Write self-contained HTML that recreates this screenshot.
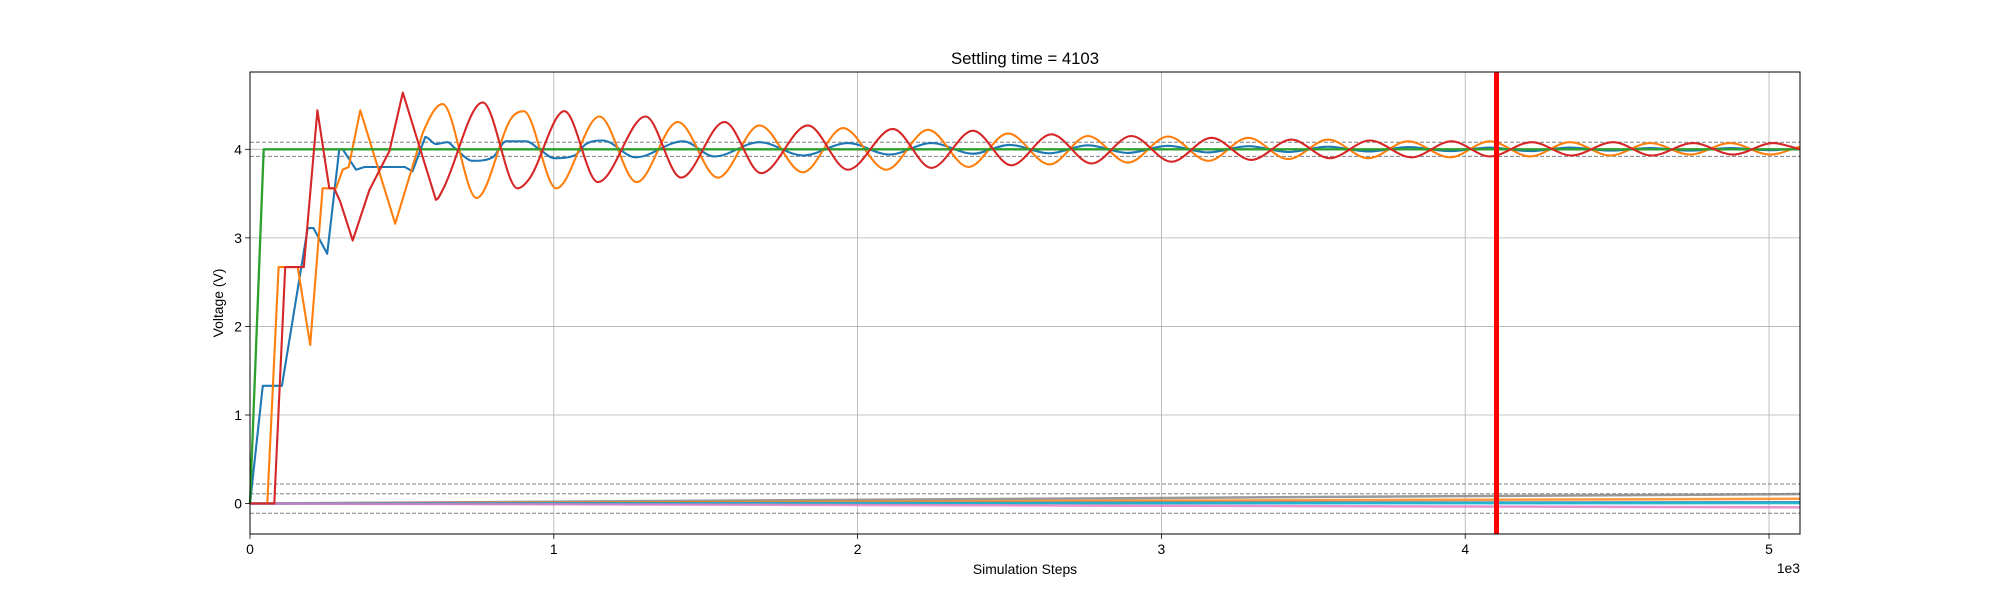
<!DOCTYPE html>
<html><head><meta charset="utf-8"><style>
body{margin:0;background:#fff;}
svg text{font-family:"Liberation Sans","DejaVu Sans",sans-serif;fill:#000;}
</style></head><body>
<svg id="chart" width="2000" height="600" xmlns="http://www.w3.org/2000/svg">
<rect width="2000" height="600" fill="#fff"/>
<g id="grid"></g>
<g id="refs"></g>
<g id="series"></g>
<g id="axes"></g>
<text x="1025" y="64" font-size="16.7" text-anchor="middle">Settling time = 4103</text>
<text x="1025" y="574" font-size="13.9" text-anchor="middle">Simulation Steps</text>
<text transform="translate(223,303) rotate(-90)" font-size="13.9" text-anchor="middle">Voltage (V)</text>
<text x="1800" y="573" font-size="13.9" text-anchor="end">1e3</text>
</svg>
<script>
const xTicks=[0,1000,2000,3000,4000,5000];
const xTickLabels=["0","1","2","3","4","5"];
const yTicks=[0,1,2,3,4];
const yTickLabels=["0","1","2","3","4"];
const settlingTime=4103;
const bandLevels=[4.08,3.92,0.22,0.11,-0.11];
const driftEnds=[0.107,0.054,0.015,0.004,-0.043];
const driftColors=["#7f7f7f","#ff7f0e","#1f77b4","#17becf","#e377c2"];
const blueSeries=[[0,0],[42,1.33],[105,1.33],[190,3.11],[209,3.11],[254,2.82],[294,4.0],[305,4.0],[349,3.77],[377,3.80],[510,3.80],[535,3.75],[577,4.14],[612,4.06],[650,4.08],[678,4.0],[733,3.87],[799,3.91],[843,4.09],[909,4.09],[953,4.0],[1002,3.90],[1068,3.93],[1106,4.06],[1161,4.10],[1270,3.91],[1425,4.09],[1529,3.92],[1677,4.08],[1820,3.93],[1968,4.07],[2105,3.94],[2243,4.07],[2380,3.95],[2500,4.05],[2632,3.955],[2758,4.045],[2890,3.96],[3022,4.04],[3154,3.965],[3286,4.035],[3417,3.97],[3549,4.03],[3681,3.975],[3812,4.025],[3950,3.98],[4081,4.02],[4213,3.98],[4345,4.02],[4477,3.985],[4609,4.015],[4740,3.985],[4872,4.015],[5003,3.99],[5102,4.01]];
const orangeSeries=[[0,0],[57,0],[94,2.67],[157,2.67],[198,1.79],[239,3.56],[283,3.56],[305,3.77],[325,3.80],[363,4.44],[478,3.16],[568,4.18],[634,4.51],[746,3.45],[860,4.35],[901,4.43],[1008,3.56],[1150,4.37],[1273,3.63],[1408,4.31],[1540,3.68],[1677,4.27],[1820,3.74],[1952,4.24],[2094,3.77],[2232,4.22],[2365,3.80],[2495,4.18],[2632,3.83],[2758,4.15],[2890,3.85],[3022,4.145],[3154,3.87],[3286,4.13],[3417,3.89],[3549,4.11],[3681,3.90],[3812,4.09],[3950,3.91],[4081,4.09],[4213,3.92],[4345,4.08],[4477,3.93],[4609,4.07],[4740,3.94],[4872,4.07],[5003,3.94],[5102,4.03]];
const greenSeries=[[0,0],[45,4],[5102,4]];
const redSeries=[[0,0],[80,0],[116,2.67],[177,2.67],[222,4.44],[250,3.80],[261,3.56],[277,3.56],[297,3.41],[338,2.97],[393,3.54],[459,3.98],[503,4.64],[612,3.43],[634,3.54],[766,4.53],[881,3.56],[920,3.67],[1035,4.43],[1145,3.63],[1302,4.37],[1419,3.68],[1562,4.31],[1683,3.73],[1836,4.27],[1968,3.77],[2116,4.23],[2243,3.79],[2380,4.21],[2506,3.82],[2638,4.17],[2770,3.84],[2901,4.15],[3033,3.86],[3165,4.13],[3296,3.88],[3428,4.11],[3554,3.90],[3686,4.10],[3823,3.91],[3955,4.09],[4081,3.92],[4219,4.08],[4350,3.93],[4487,4.08],[4614,3.93],[4750,4.07],[4882,3.94],[5014,4.07],[5102,4.0]];

const NS="http://www.w3.org/2000/svg";
const L=250,R=1800,T=72,B=534,XMIN=0,XMAX=5102,YMIN=-0.344,YMAX=4.873;
const SMOOTH_FROM=560;
function sx(v){return L+(v-XMIN)/(XMAX-XMIN)*(R-L);}
function sy(v){return B-(v-YMIN)/(YMAX-YMIN)*(B-T);}
function mk(tag,attrs,parent){const e=document.createElementNS(NS,tag);for(const k in attrs)e.setAttribute(k,attrs[k]);parent.appendChild(e);return e;}
const grid=document.getElementById('grid'),refs=document.getElementById('refs'),ser=document.getElementById('series'),axes=document.getElementById('axes');
xTicks.forEach((t,i)=>{
  const g=mk('line',{x1:sx(t),x2:sx(t),y1:T,y2:B,stroke:'#b0b0b0','stroke-width':0.8},grid);
  
  
  const tk=mk('line',{x1:sx(t),x2:sx(t),y1:B,y2:B+4.9,stroke:'#000','stroke-width':0.8},axes);
  
  
  const tx=mk('text',{x:sx(t),y:B+20,'font-size':13.9,'text-anchor':'middle'},axes);
  tx.textContent=xTickLabels[i];
  
  
});
yTicks.forEach((t,i)=>{
  const g=mk('line',{x1:L,x2:R,y1:sy(t),y2:sy(t),stroke:'#b0b0b0','stroke-width':0.8},grid);
  
  
  const tk=mk('line',{x1:L-4.9,x2:L,y1:sy(t),y2:sy(t),stroke:'#000','stroke-width':0.8},axes);
  
  
  const tx=mk('text',{x:L-8,y:sy(t)+5,'font-size':13.9,'text-anchor':'end'},axes);
  tx.textContent=yTickLabels[i];
  
  
});
bandLevels.forEach(v=>{
  const d=mk('line',{x1:L,x2:R,y1:sy(v),y2:sy(v),stroke:'#808080','stroke-width':1,'stroke-dasharray':'4,2'},refs);
  
  
});
driftEnds.forEach((v,i)=>{
  const d=mk('line',{x1:sx(0),x2:sx(XMAX),y1:sy(0),y2:sy(v),stroke:driftColors[i],'stroke-width':2.5,'stroke-opacity':0.8},ser);
  
  
});
// linear early, monotone cubic (Fritsch-Carlson) later
function monoPath(pts){
  const n=pts.length;const X=pts.map(p=>p[0]),Y=pts.map(p=>p[1]);
  const d=[],m=new Array(n);
  for(let i=0;i<n-1;i++)d.push((Y[i+1]-Y[i])/(X[i+1]-X[i]));
  m[0]=d[0];m[n-1]=d[n-2];
  for(let i=1;i<n-1;i++){m[i]=(d[i-1]*d[i]<=0)?0:(d[i-1]+d[i])/2;}
  for(let i=0;i<n-1;i++){
    if(d[i]===0){m[i]=0;m[i+1]=0;continue;}
    const a=m[i]/d[i],b=m[i+1]/d[i],s=a*a+b*b;
    if(s>9){const t=3/Math.sqrt(s);m[i]=t*a*d[i];m[i+1]=t*b*d[i];}
  }
  let s='M'+sx(X[0]).toFixed(1)+','+sy(Y[0]).toFixed(1);
  for(let i=0;i<n-1;i++){
    if(X[i]<SMOOTH_FROM){s+='L'+sx(X[i+1]).toFixed(1)+','+sy(Y[i+1]).toFixed(1);continue;}
    const h=(X[i+1]-X[i])/3;
    s+='C'+sx(X[i]+h).toFixed(1)+','+sy(Y[i]+m[i]*h).toFixed(1)+' '+sx(X[i+1]-h).toFixed(1)+','+sy(Y[i+1]-m[i+1]*h).toFixed(1)+' '+sx(X[i+1]).toFixed(1)+','+sy(Y[i+1]).toFixed(1);
  }
  return s;
}
function path(data,color,name,w){
  const p=mk('path',{d:monoPath(data),fill:'none',stroke:color,'stroke-width':w,'stroke-linejoin':'round'},ser);
  
  
}
path(blueSeries,'#1f77b4','blue-voltage-line',2.1);
path(orangeSeries,'#ff7f0e','orange-voltage-line',2.1);
path(greenSeries,'#2ca02c','green-voltage-line',2.3);
path(redSeries,'#d62728','red-voltage-line',2.1);
const vl=mk('line',{x1:sx(settlingTime),x2:sx(settlingTime),y1:T,y2:B,stroke:'#ff0000','stroke-width':5},ser);


const fr=mk('rect',{x:L,y:T,width:R-L,height:B-T,fill:'none',stroke:'#000','stroke-width':1},axes);


</script>
</body></html>
